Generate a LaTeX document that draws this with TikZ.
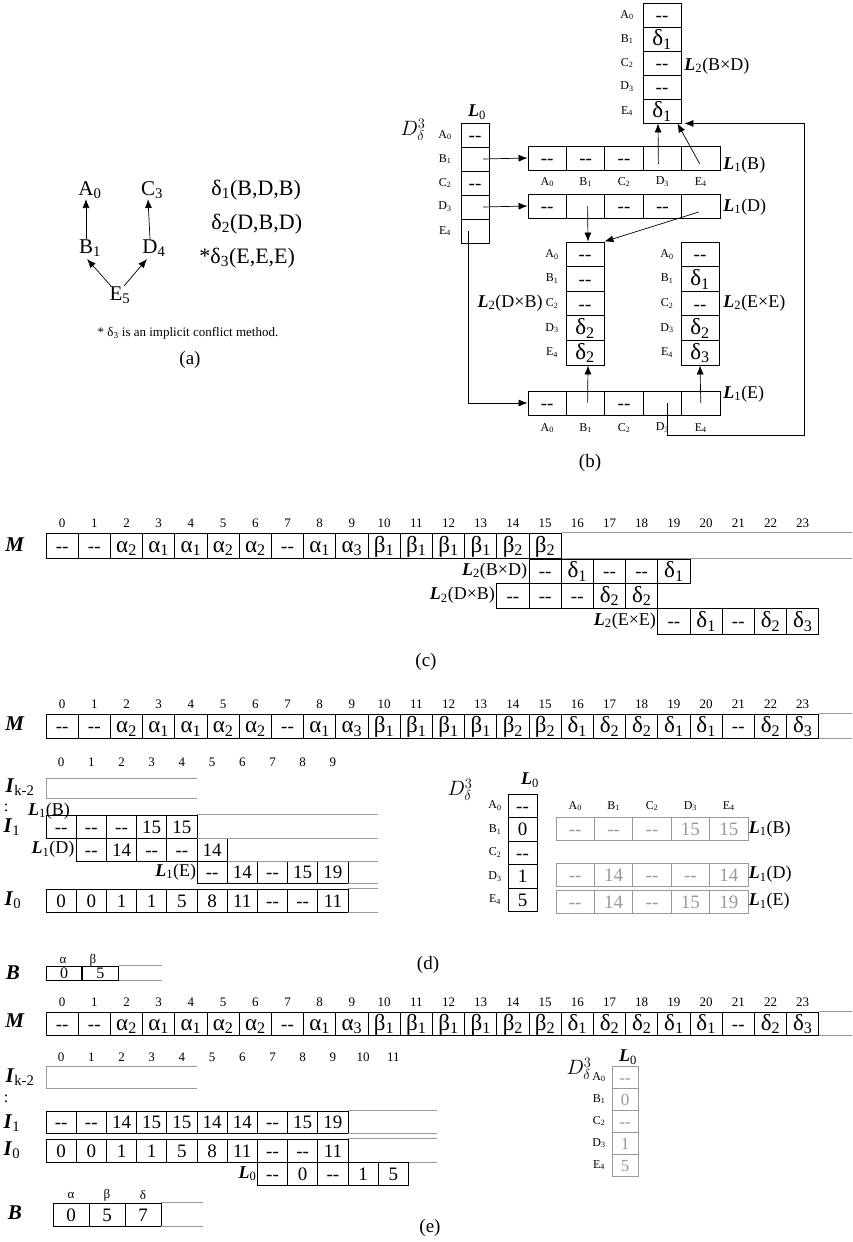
\documentclass[tikz,border=0pt]{standalone}
\usepackage{fontspec}
\setmainfont{Liberation Serif}
\usetikzlibrary{arrows,arrows.meta,positioning,calc}

\definecolor{lgray}{gray}{0.6}
\newcommand{\fs}[1]{\fontsize{#1}{#1}\selectfont}
\newcommand{\dsh}{-{}-}
\newcommand{\Ga}[1]{{\fs{23}α\textsubscript{#1}}}
\newcommand{\Gb}[1]{{\fs{23}β\textsubscript{#1}}}
\newcommand{\Gd}[1]{{\fs{23}δ\textsubscript{#1}}}
\newcommand{\bfit}[1]{\textbf{\textit{#1}}}
\newcommand{\Lsub}[1]{\bfit{L}\textsubscript{#1}}
\newcommand{\Mseq}{\dsh,\dsh,{\Ga2},{\Ga1},{\Ga1},{\Ga2},{\Ga2},\dsh,{\Ga1},{\Ga3},{\Gb1},{\Gb1},{\Gb1},{\Gb1},{\Gb2},{\Gb2}}
\newcommand{\Mfull}{\dsh,\dsh,{\Ga2},{\Ga1},{\Ga1},{\Ga2},{\Ga2},\dsh,{\Ga1},{\Ga3},{\Gb1},{\Gb1},{\Gb1},{\Gb1},{\Gb2},{\Gb2},{\Gd1},{\Gd2},{\Gd2},{\Gd1},{\Gd1},\dsh,{\Gd2},{\Gd3}}

\tikzset{
  cell/.style={draw, inner sep=0pt, minimum width=32.2pt, minimum height=24pt,
    text height=13pt, text depth=0pt, font=\fs{19}},
  gcell/.style={cell, draw=lgray, text=lgray, line width=.7pt},
  idx/.style={inner sep=0pt, font=\fs{13}},
  rlab/.style={inner sep=0pt, font=\fs{12}},
  lab/.style={inner sep=1pt, font=\fs{18}},
  big/.style={inner sep=0pt, font=\fs{21}},
  ttl/.style={inner sep=0pt, font=\fs{21}},
  capt/.style={inner sep=0pt, font=\fs{19}},
  glines/.style={lgray, line width=.7pt},
  arr/.style={-{Latex[length=9pt,width=7pt]}, line width=.7pt}
}

\begin{document}
\begin{tikzpicture}[x=1pt,y=-1pt,line width=.9pt]
\useasboundingbox (0,0) rectangle (852,1242);

% ---------------- (a)
\node[big] (a0) at (90,190) {A\textsubscript{0}};
\node[big] (c3) at (152,190) {C\textsubscript{3}};
\node[big] (b1) at (90,248) {B\textsubscript{1}};
\node[big] (d4) at (154,248) {D\textsubscript{4}};
\node[big] (e5) at (120,295) {E\textsubscript{5}};
\draw[arr] ([xshift=-4]b1.north) -- ([xshift=-4]a0.south);
\draw[arr] ([xshift=-4]d4.north) -- ([xshift=-4]c3.south);
\draw[arr] ([shift={(-9,-9)}]e5.center) -- ([shift={(-3,11)}]b1.center);
\draw[arr] ([shift={(4,-9)}]e5.center) -- ([shift={(-7,11)}]d4.center);
\node[big, font=\fs{22}, anchor=west] (m1) at (211,190) {δ\textsubscript{1}(B,D,B)};
\node[big, font=\fs{22}, anchor=west] (m2) at (211,224) {δ\textsubscript{2}(D,B,D)};
\node[big, font=\fs{22}, anchor=west] (m3) at (199,258) {*δ\textsubscript{3}(E,E,E)};
\node[inner sep=0pt, font=\fs{13}] (note) at (188,333) {* δ\textsubscript{3} is an implicit conflict method.};
\node[capt] (capa) at (190,360) {(a)};

% ---------------- (b)
\node[ttl] (dd1) at (413,130) {$D_\delta^3$};
\node[lab] (l0t) at (477,112) {\Lsub{0}};
\foreach \t [count=\k from 0] in {\dsh,{},\dsh,{},{}}
  \node[cell, minimum width=28pt] (l0-\k) at (475,{135+24*\k}) {\t};
\foreach \r [count=\k from 0] in {A,B,C,D,E}
  \node[rlab] (l0r-\k) at (445,{135+24*\k}) {\r\textsubscript{\k}};
% L2(BxD)
\foreach \t [count=\k from 0] in {\dsh,{\Gd1},\dsh,\dsh,{\Gd1}}
  \node[cell, minimum width=38pt] (bd-\k) at (662,{15+24*\k}) {\t};
\foreach \r [count=\k from 0] in {A,B,C,D,E}
  \node[rlab] (bdr-\k) at (627,{15+24*\k}) {\r\textsubscript{\k}};
\node[lab, anchor=west] (bdt) at (683,66) {\Lsub{2}(B×D)};
% L1(B), L1(D)
\foreach \t [count=\k from 0] in {\dsh,\dsh,\dsh,{},{}}
  \node[cell, minimum width=38.4pt] (lb-\k) at ({528+38.4*(\k+.5)},158) {\t};
\foreach \r [count=\k from 0] in {A,B,C,D,E}
  \node[rlab] (lbh-\k) at ({528+38.4*(\k+.5)},182) {\r\textsubscript{\k}};
\node[lab, anchor=west] (lbt) at (722,165) {\Lsub{1}(B)};
\foreach \t [count=\k from 0] in {\dsh,{},\dsh,\dsh,{}}
  \node[cell, minimum width=38.4pt] (ld-\k) at ({528+38.4*(\k+.5)},206) {\t};
\node[lab, anchor=west] (ldt) at (722,207) {\Lsub{1}(D)};
% L2(DxB), L2(ExE)
\foreach \t [count=\k from 0] in {\dsh,\dsh,\dsh,{\Gd2},{\Gd2}}
  \node[cell, minimum width=38pt, minimum height=24.6pt] (db-\k) at (585,{254.3+24.6*\k}) {\t};
\foreach \r [count=\k from 0] in {A,B,C,D,E}
  \node[rlab] (dbr-\k) at (552,{254.3+24.6*\k}) {\r\textsubscript{\k}};
\node[lab, anchor=east] (dbt) at (544,303) {\Lsub{2}(D×B)};
\foreach \t [count=\k from 0] in {\dsh,{\Gd1},\dsh,{\Gd2},{\Gd3}}
  \node[cell, minimum width=38pt, minimum height=24.6pt] (ee-\k) at (700,{254.3+24.6*\k}) {\t};
\foreach \r [count=\k from 0] in {A,B,C,D,E}
  \node[rlab] (eer-\k) at (667,{254.3+24.6*\k}) {\r\textsubscript{\k}};
\node[lab, anchor=west] (eet) at (722,303) {\Lsub{2}(E×E)};
% L1(E)
\foreach \t [count=\k from 0] in {\dsh,{},\dsh,{},{}}
  \node[cell, minimum width=38.4pt] (le-\k) at ({528+38.4*(\k+.5)},403) {\t};
\foreach \r [count=\k from 0] in {A,B,C,D,E}
  \node[rlab] (leh-\k) at ({528+38.4*(\k+.5)},428) {\r\textsubscript{\k}};
\node[lab, anchor=west] (let) at (722,394) {\Lsub{1}(E)};
% pointers
\draw[arr] ([xshift=8]l0-1.center) -- (lb-0.west);
\draw[arr] ([xshift=8]l0-3.center) -- (ld-0.west);
\draw[arr] ([xshift=-7]l0-4.center) |- (le-0.west);
\draw[arr] ([shift={(-4,6)}]lb-3.center) -- ([xshift=-4]bd-4.south);
\draw[arr] ([shift={(-1,6)}]lb-4.center) -- ([xshift=-4]bd-4.south east);
\draw[arr] ([xshift=2]ld-1.center) -- ([xshift=3]db-0.north);
\draw[arr] ([shift={(-2,6)}]ld-4.center) -- (db-0.north east);
\draw[arr] ([xshift=2]le-1.center) -- ([xshift=3]db-4.south);
\draw[arr] (le-4.center) -- (ee-4.south);
\coordinate (loop) at (804,435);
\draw[arr] ([xshift=5]le-3.center) |- (loop) |- ([xshift=3]bd-4.south east);
\node[capt] (capb) at (590,463) {(b)};

% ---------------- (c)
\node[ttl] (mlc) at (15,545) {\bfit{M}};
\foreach \i in {0,...,23}
  \node[idx] (ic-\i) at ({46+32.2*(\i+.5)},523) {\i};
\foreach \t [count=\i from 0] in \Mseq
  \node[cell, minimum height=25pt] (mc-\i) at ({46+32.2*(\i+.5)},545.5) {\t};
\coordinate (mcr) at (852,545.5);
\draw[glines] (mc-15.north east) -- (mcr |- mc-15.north) (mc-15.south east) -- (mcr |- mc-15.south);
\foreach \t [count=\i from 15] in {\dsh,{\Gd1},\dsh,\dsh,{\Gd1}}
  \node[cell] (cbd-\i) at ({46+32.2*(\i+.5)},571) {\t};
\node[lab, anchor=east] (cbdt) at (cbd-15.west) {\Lsub{2}(B×D)};
\foreach \t [count=\i from 14] in {\dsh,\dsh,\dsh,{\Gd2},{\Gd2}}
  \node[cell, minimum height=25pt] (cdb-\i) at ({46+32.2*(\i+.5)},595.5) {\t};
\node[lab, anchor=east] (cdbt) at (cdb-14.west) {\Lsub{2}(D×B)};
\foreach \t [count=\i from 19] in {\dsh,{\Gd1},\dsh,{\Gd2},{\Gd3}}
  \node[cell, minimum height=26pt] (cee-\i) at ({46+32.2*(\i+.5)},621) {\t};
\node[lab, anchor=east] (ceet) at (cee-19.west) {\Lsub{2}(E×E)};
\node[capt] (capc) at (426,662) {(c)};

% ---------------- (d)
\node[ttl] (mld) at (15,724) {\bfit{M}};
\foreach \i in {0,...,23}
  \node[idx] (id-\i) at ({46+32.2*(\i+.5)},704) {\i};
\foreach \t [count=\i from 0] in \Mfull
  \node[cell] (md-\i) at ({46+32.2*(\i+.5)},726) {\t};
\coordinate (mdr) at (852,726);
\draw[glines] (md-23.north east) -- (mdr |- md-23.north) (md-23.south east) -- (mdr |- md-23.south);
\foreach \i in {0,...,9}
  \node[idx] (jd-\i) at ({46+30.2*(\i+.5)},762) {\i};
\node[ttl] (ikd) at (20,787) {\bfit{I}\textsubscript{k-2}};
\draw[glines] (197,778) -- (46,778) -- (46,798) -- (197,798);
\node[ttl, font=\fs{16}] (dotd) at (6,808) {:};
\node[lab] (lbd) at (49,811) {\Lsub{1}(B)};
\node[ttl] (i1d) at (12,827) {\bfit{I}\textsubscript{1}};
\foreach \t [count=\i from 0] in {\dsh,\dsh,\dsh,15,15}
  \node[cell, minimum width=30.2pt, minimum height=23pt] (i1-\i) at ({46+30.2*(\i+.5)},826.5) {\t};
\foreach \t [count=\i from 1] in {\dsh,14,\dsh,\dsh,14}
  \node[cell, minimum width=30.2pt, minimum height=23pt] (ldd-\i) at ({46+30.2*(\i+.5)},849.5) {\t};
\node[lab, anchor=east] (lddt) at (ldd-1.west) {\Lsub{1}(D)};
\foreach \t [count=\i from 5] in {\dsh,14,\dsh,15,19}
  \node[cell, minimum width=30.2pt, minimum height=22pt] (led-\i) at ({46+30.2*(\i+.5)},872) {\t};
\node[lab, anchor=east, inner sep=0pt] (ledt) at (led-5.west) {\Lsub{1}(E)};
\node[ttl] (i0d) at (13,900) {\bfit{I}\textsubscript{0}};
\foreach \t [count=\i from 0] in {0,0,1,1,5,8,11,\dsh,\dsh,11}
  \node[cell, minimum width=30.2pt, minimum height=23pt] (i0-\i) at ({46+30.2*(\i+.5)},900.5) {\t};
\coordinate (dr) at (378,0);
\draw[glines] (i1-4.north east) -- (dr |- i1-4.north) (i1-4.south east) -- (dr |- i1-4.south)
  (ldd-5.south east) -- (dr |- ldd-5.south) (led-9.south east) -- (dr |- led-9.south)
  (i0-9.north east) -- (dr |- i0-9.north) (i0-9.south east) -- (dr |- i0-9.south);
\node[ttl] (bld) at (13,973) {\bfit{B}};
\node[idx] (bad) at (63,960) {α};
\node[idx] (bbd) at (93,960) {β};
\node[cell, minimum width=35.5pt, minimum height=14pt, text height=10pt, font=\fs{16}] (bd0) at (64,973) {0};
\node[cell, minimum width=35.5pt, minimum height=14pt, text height=10pt, font=\fs{16}, right=0pt of bd0] (bd1) {5};
\draw[glines] (bd1.north east) -- ++(43,0) (bd1.south east) -- ++(43,0);
% D table of (d)
\node[ttl] (dd2) at (460,790) {$D_\delta^3$};
\node[lab] (l0td) at (530,780) {\Lsub{0}};
\foreach \t [count=\k from 0] in {\dsh,0,\dsh,1,5}
  \node[cell, minimum width=29pt, minimum height=23.5pt] (l0d-\k) at (522.5,{805.75+23.5*\k}) {\t};
\foreach \r [count=\k from 0] in {A,B,C,D,E}
  \node[rlab] (l0dr-\k) at (495,{805.75+23.5*\k}) {\r\textsubscript{\k}};
\foreach \r [count=\k from 0] in {A,B,C,D,E}
  \node[rlab] (gh-\k) at ({556+38.4*(\k+.5)},806) {\r\textsubscript{\k}};
\foreach \t [count=\k from 0] in {\dsh,\dsh,\dsh,15,15}
  \node[gcell, minimum width=38.4pt, minimum height=23pt] (gb-\k) at ({556+38.4*(\k+.5)},829) {\t};
\foreach \t [count=\k from 0] in {\dsh,14,\dsh,\dsh,14}
  \node[gcell, minimum width=38.4pt, minimum height=23pt] (gd-\k) at ({556+38.4*(\k+.5)},874.5) {\t};
\foreach \t [count=\k from 0] in {\dsh,14,\dsh,15,19}
  \node[gcell, minimum width=38.4pt, minimum height=23pt] (ge-\k) at ({556+38.4*(\k+.5)},901.5) {\t};
\node[lab, anchor=west, inner sep=0pt] (gbt) at (gb-4.east) {\Lsub{1}(B)};
\node[lab, anchor=west, inner sep=0pt] (gdt) at (gd-4.east) {\Lsub{1}(D)};
\node[lab, anchor=west, inner sep=0pt] (get) at (ge-4.east) {\Lsub{1}(E)};
\node[capt] (capd) at (428,965) {(d)};

% ---------------- (e)
\node[ttl] (mle) at (15,1021) {\bfit{M}};
\foreach \i in {0,...,23}
  \node[idx] (ie-\i) at ({46+32.2*(\i+.5)},1002) {\i};
\foreach \t [count=\i from 0] in \Mfull
  \node[cell, minimum height=23pt] (me-\i) at ({46+32.2*(\i+.5)},1023.5) {\t};
\coordinate (mer) at (852,1023.5);
\draw[glines] (me-23.north east) -- (mer |- me-23.north) (me-23.south east) -- (mer |- me-23.south);
\foreach \i in {0,...,11}
  \node[idx] (je-\i) at ({46+30.2*(\i+.5)},1057) {\i};
\node[ttl] (ike) at (20,1077) {\bfit{I}\textsubscript{k-2}};
\draw[glines] (197,1066) -- (46,1066) -- (46,1088) -- (197,1088);
\node[ttl, font=\fs{16}] (dote) at (6,1099) {:};
\node[ttl] (i1e) at (12,1123) {\bfit{I}\textsubscript{1}};
\foreach \t [count=\i from 0] in {\dsh,\dsh,14,15,15,14,14,\dsh,15,19}
  \node[cell, minimum width=30.2pt, minimum height=22pt] (j1-\i) at ({46+30.2*(\i+.5)},1122) {\t};
\node[ttl] (i0e) at (12,1150) {\bfit{I}\textsubscript{0}};
\foreach \t [count=\i from 0] in {0,0,1,1,5,8,11,\dsh,\dsh,11}
  \node[cell, minimum width=30.2pt, minimum height=23pt] (j0-\i) at ({46+30.2*(\i+.5)},1150.5) {\t};
\coordinate (er) at (437,0);
\draw[glines] (j1-9.north east) -- (er |- j1-9.north) (j1-9.south east) -- (er |- j1-9.south)
  (j0-9.north east) -- (er |- j0-9.north) (j0-9.south east) -- (er |- j0-9.south);
\foreach \t [count=\i from 7] in {\dsh,0,\dsh,1,5}
  \node[cell, minimum width=30.2pt, minimum height=23pt] (l0e-\i) at ({46+30.2*(\i+.5)},1173.5) {\t};
\node[lab, anchor=east, inner sep=0pt] (l0et) at (l0e-7.west) {\Lsub{0}};
\node[ttl] (ble) at (15,1213) {\bfit{B}};
\foreach \g [count=\i from 0] in {α,β,δ}
  \node[idx] (bh-\i) at ({71+36*\i},1195) {\g};
\foreach \t [count=\i from 0] in {0,5,7}
  \node[cell, minimum width=36pt, minimum height=23pt] (be-\i) at ({53+36*(\i+.5)},1214.5) {\t};
\draw[glines] (be-2.north east) -- ++(42,0) (be-2.south east) -- ++(42,0);
\node[capt] (cape) at (430,1228) {(e)};
% D table of (e)
\node[ttl] (dd3) at (579,1069) {$D_\delta^3$};
\node[lab] (l0te) at (628,1057) {\Lsub{0}};
\foreach \t [count=\k from 0] in {\dsh,0,\dsh,1,5}
  \node[gcell, minimum width=26pt, minimum height=22pt, text height=12pt, font=\fs{17}] (l0g-\k) at (625,{1077+22*\k}) {\t};
\foreach \r [count=\k from 0] in {A,B,C,D,E}
  \node[rlab] (l0gr-\k) at (599,{1077+22*\k}) {\r\textsubscript{\k}};
\end{tikzpicture}
\end{document}
